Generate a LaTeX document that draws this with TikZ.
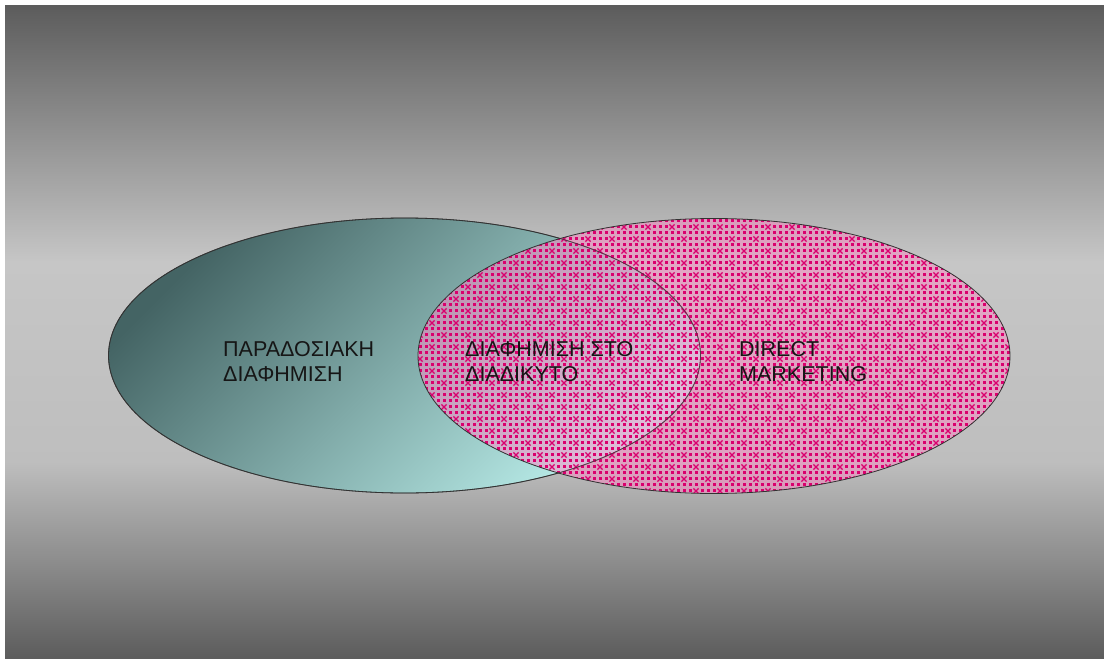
\documentclass[tikz,border=0pt]{standalone}
\usepackage{fontspec}
\setmainfont{Liberation Sans}
\usetikzlibrary{shapes.geometric,patterns}
\definecolor{bgdark}{RGB}{92,92,92}
\definecolor{bglight}{RGB}{198,198,198}
\definecolor{tealdark}{RGB}{68,100,100}
\definecolor{teallight}{RGB}{188,240,236}
\definecolor{pinkfill}{RGB}{255,135,195}
\definecolor{dotcol}{RGB}{218,0,110}
\definecolor{edgecol}{RGB}{50,50,50}
\definecolor{txtcol}{RGB}{22,22,22}
\pgfdeclarepatternformonly{vennpat}{\pgfqpoint{-3pt}{-3pt}}{\pgfqpoint{27pt}{27pt}}{\pgfqpoint{24pt}{24pt}}{%
  \foreach \i in {0,1,2,3}{\foreach \j in {0,1,2,3}{%
    \pgfmathtruncatemacro{\k}{mod(\i+\j,4)}%
    \pgfmathsetmacro{\cx}{\i*6}%
    \pgfmathsetmacro{\cy}{\j*6}%
    \ifnum\k=0\relax
      \ifnum\i=\j\relax
        \pgfsetlinewidth{1.2pt}%
        \pgfpathmoveto{\pgfpoint{\cx pt-2.6pt}{\cy pt-2.6pt}}%
        \pgfpathlineto{\pgfpoint{\cx pt+2.6pt}{\cy pt+2.6pt}}%
        \pgfpathmoveto{\pgfpoint{\cx pt-2.6pt}{\cy pt+2.6pt}}%
        \pgfpathlineto{\pgfpoint{\cx pt+2.6pt}{\cy pt-2.6pt}}%
        \pgfusepath{stroke}%
      \else
        \pgfpathrectangle{\pgfpoint{\cx pt-1.5pt}{\cy pt-1.5pt}}{\pgfqpoint{3pt}{3pt}}%
        \pgfusepath{fill}%
      \fi
    \else
      \pgfpathrectangle{\pgfpoint{\cx pt-1.5pt}{\cy pt-1.5pt}}{\pgfqpoint{3pt}{3pt}}%
      \pgfusepath{fill}%
    \fi
  }}%
}
\tikzset{
  vennset/.style={ellipse, inner sep=0pt, minimum width=592pt, minimum height=275pt},
  venntext/.style={anchor=north west, inner sep=0pt, align=left, text=txtcol,
    font=\fontsize{21.5pt}{25pt}\selectfont},
  venngrid/.style={draw=edgecol, line width=0.8pt}
}
\begin{document}
\begin{tikzpicture}[x=1pt,y=-1pt]
\useasboundingbox (0,0) rectangle (1104,659);
\fill[white] (0,0) rectangle (1104,659);
% background
\shade[top color=bgdark, bottom color=bglight] (5,5) rectangle (1104,262);
\shade[top color=bglight, bottom color=bglight!96!black] (5,261) rectangle (1104,462);
\shade[top color=bglight!96!black, bottom color=bgdark] (5,461) rectangle (1104,659);
% left set
\node[vennset, venngrid, shading=axis, top color=tealdark, bottom color=teallight,
      shading angle=45] (trad) at (404.5,355.5) {};
% right set
\node[vennset, venngrid, preaction={fill=pinkfill, fill opacity=0.5},
      pattern=vennpat, pattern color=dotcol] (direct) at (714,356) {};
% re-stroke left outline through the overlap
\draw[edgecol, line width=0.8pt, opacity=0.7] (trad.center) ellipse [x radius=296pt, y radius=137.5pt];
% labels
\node[venntext] (ltrad) at (223,341.5) {ΠΑΡΑΔΟΣΙΑΚΗ\\ΔΙΑΦΗΜΙΣΗ};
\node[venntext] (lnet) at (465,341) {ΔΙΑΦΗΜΙΣΗ ΣΤΟ\\ΔΙΑΔΙΚΥΤΟ};
\node[venntext] (ldm) at (739,341.5) {DIRECT\\MARKETING};
\end{tikzpicture}
\end{document}
